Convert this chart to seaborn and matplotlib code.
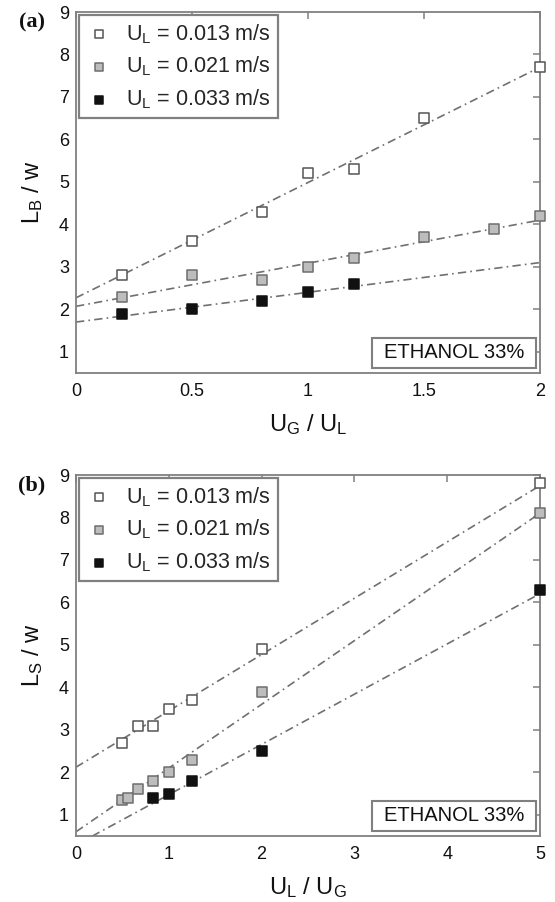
import numpy as np
import pandas as pd
import matplotlib
matplotlib.use("Agg")
import matplotlib.pyplot as plt
from matplotlib.patches import Rectangle
import seaborn as sns

# ---------------- data ----------------
series_labels = ["U$_\\mathregular{L}$ = 0.013 m/s",
                 "U$_\\mathregular{L}$ = 0.021 m/s",
                 "U$_\\mathregular{L}$ = 0.033 m/s"]

# panel (a): L_B / w vs U_G / U_L
a_x1 = [0.2, 0.5, 0.8, 1.0, 1.2, 1.5, 2.0]
a_y1 = [2.8, 3.6, 4.3, 5.2, 5.3, 6.5, 7.7]
a_x2 = [0.2, 0.5, 0.8, 1.0, 1.2, 1.5, 1.8, 2.0]
a_y2 = [2.3, 2.8, 2.7, 3.0, 3.2, 3.7, 3.9, 4.2]
a_x3 = [0.2, 0.5, 0.8, 1.0, 1.2]
a_y3 = [1.9, 2.0, 2.2, 2.4, 2.6]
a_fit_intercept = [2.27, 2.07, 1.70]
a_fit_slope = [2.715, 1.015, 0.70]

# panel (b): L_S / w vs U_L / U_G
b_x1 = [0.5, 0.67, 0.83, 1.0, 1.25, 2.0, 5.0]
b_y1 = [2.7, 3.1, 3.1, 3.5, 3.7, 4.9, 8.8]
b_x2 = [0.5, 0.56, 0.67, 0.83, 1.0, 1.25, 2.0, 5.0]
b_y2 = [1.35, 1.4, 1.6, 1.8, 2.0, 2.3, 3.9, 8.1]
b_x3 = [0.83, 1.0, 1.25, 2.0, 5.0]
b_y3 = [1.4, 1.5, 1.8, 2.5, 6.3]
b_fit_intercept = [2.12, 0.60, 0.29]
b_fit_slope = [1.326, 1.50, 1.183]

a_xticks = [0, 0.5, 1, 1.5, 2]
a_xticklabels = ["0", "0.5", "1", "1.5", "2"]
b_xticks = [0, 1, 2, 3, 4, 5]
b_xticklabels = ["0", "1", "2", "3", "4", "5"]
yticks = [1, 2, 3, 4, 5, 6, 7, 8, 9]

# ---------------- style ----------------
sns.set_style("white")
plt.rcParams["font.family"] = ["Liberation Sans", "DejaVu Sans"]
plt.rcParams["mathtext.default"] = "regular"
plt.rcParams["axes.edgecolor"] = "#808080"
plt.rcParams["axes.linewidth"] = 1.3

FRAME = "#808080"
face = ["white", "#bdbdbd", "#111111"]
edge = ["#555555", "#6e6e6e", "#111111"]
LINE_C = "#707070"
DASH = (0, (5, 2.5, 1, 2.5))

fig = plt.figure(figsize=(5.55, 9.02), dpi=100)
ax_a = fig.add_axes([76 / 555, 1 - 373 / 902, 464 / 555, 361 / 902])
ax_b = fig.add_axes([76 / 555, 1 - 836 / 902, 464 / 555, 361 / 902])


def panel(ax, xs, ys, icpt, slope, xmax, xticks, xticklabels, xlabel, ylabel):
    # fit lines
    for i in range(3):
        xl = np.array([0.0, xmax])
        df_l = pd.DataFrame({"x": xl, "y": icpt[i] + slope[i] * xl})
        sns.lineplot(data=df_l, x="x", y="y", ax=ax, color=LINE_C, lw=1.2,
                     linestyle=DASH, legend=False, zorder=2)
    # markers
    for i in range(3):
        df = pd.DataFrame({"x": xs[i], "y": ys[i]})
        sns.scatterplot(data=df, x="x", y="y", ax=ax, marker="s", s=60,
                        color=face[i], edgecolor=edge[i], linewidth=1.1,
                        label=series_labels[i], zorder=3, clip_on=False)
    ax.set_xlim(0, xmax)
    ax.set_ylim(0.5, 9)
    ax.set_xticks(xticks)
    ax.set_xticklabels(xticklabels)
    ax.set_yticks(yticks)
    ax.tick_params(direction="in", length=5, width=1.1, color=FRAME,
                   top=True, right=True, labelsize=13, labelcolor="#111111")
    ax.tick_params(axis="x", pad=7)
    ax.tick_params(axis="y", pad=5)
    ax.set_xlabel(xlabel, fontsize=17, labelpad=9, color="#111111")
    ax.set_ylabel(ylabel, fontsize=17, labelpad=10, color="#111111")
    for sp in ax.spines.values():
        sp.set_color(FRAME)
        sp.set_linewidth(1.3)
    leg = ax.legend(loc="upper left", bbox_to_anchor=(0.006, 0.992),
                    borderaxespad=0, fontsize=15.5, frameon=True, fancybox=False,
                    framealpha=1, edgecolor=FRAME, markerscale=0.72,
                    handlelength=1.25, handletextpad=0.6, borderpad=0.33,
                    labelspacing=0.42)
    leg.get_frame().set_linewidth(1.6)
    # ETHANOL box
    ax.add_patch(Rectangle((0.638, 0.014), 0.353, 0.083, transform=ax.transAxes,
                           facecolor="white", edgecolor=FRAME, lw=1.5, zorder=4))
    ax.text(0.8145, 0.0555, "ETHANOL 33%", transform=ax.transAxes, ha="center",
            va="center", fontsize=14.5, color="#111111", zorder=5)


panel(ax_a, [a_x1, a_x2, a_x3], [a_y1, a_y2, a_y3], a_fit_intercept, a_fit_slope,
      2, a_xticks, a_xticklabels,
      "U$_\\mathregular{G}$ / U$_\\mathregular{L}$",
      "L$_\\mathregular{B}$ / w")
panel(ax_b, [b_x1, b_x2, b_x3], [b_y1, b_y2, b_y3], b_fit_intercept, b_fit_slope,
      5, b_xticks, b_xticklabels,
      "U$_\\mathregular{L}$ / U$_\\mathregular{G}$",
      "L$_\\mathregular{S}$ / w")

fig.text(32 / 555, 1 - 22 / 902, "(a)", family=["Liberation Serif", "DejaVu Serif"],
         fontweight="bold", fontsize=16, ha="center", va="center", color="#111111")
fig.text(32 / 555, 1 - 485 / 902, "(b)", family=["Liberation Serif", "DejaVu Serif"],
         fontweight="bold", fontsize=16, ha="center", va="center", color="#111111")

fig.savefig("out.png", dpi=100)
